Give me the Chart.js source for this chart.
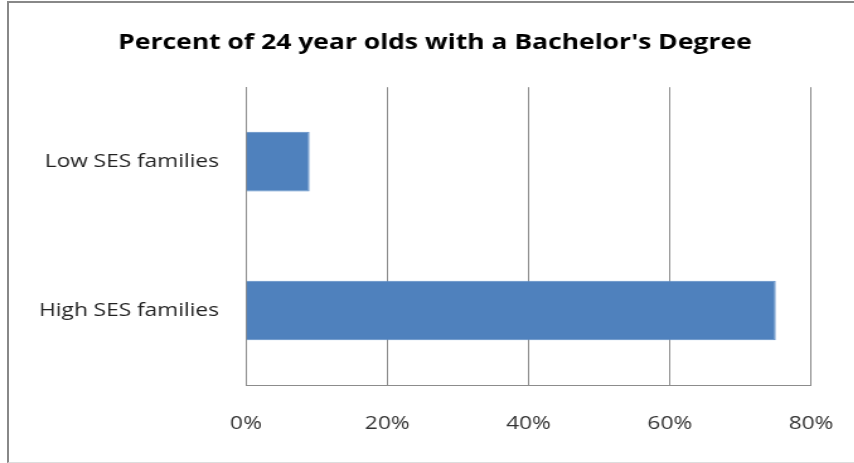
<!DOCTYPE html>
<html>
<head>
<meta charset="utf-8">
<script src="https://cdn.jsdelivr.net/npm/chart.js@4"></script>
<style>
  body { margin: 0; background: #fff; }
  #wrap { position: relative; width: 854px; height: 463px; overflow: hidden; }
  #frame {
    position: absolute; left: 7px; top: 1px; width: 900px; height: 459px;
    border-left: 2px solid #888; border-top: 2px solid #888; border-bottom: 1px solid #ddd;
  }
  /* the source picture is stretched sideways, so stretch the canvas too */
  #graph1 { position: absolute; left: 0; top: 0; transform: scaleX(1.26); transform-origin: 0 0; }
</style>
</head>
<body>
<div id="wrap">
  <div id="frame"></div>
  <canvas id="graph1" width="678" height="463"></canvas>
</div>
<script>
// data
const categories = ["Low SES families", "High SES families"];
const pct_values = [9, 75];
const tick_values = [0, 20, 40, 60, 80];

const ctx = document.getElementById("graph1");

new Chart(ctx, {
  type: "bar",
  data: {
    labels: categories,
    datasets: [{
      label: "Bachelor's Degree",
      data: pct_values,
      backgroundColor: "#4F81BD",
      borderColor: "#5A8BC6",
      borderWidth: 1,
      categoryPercentage: 1,
      barPercentage: 0.4
    }]
  },
  options: {
    responsive: false,
    animation: false,
    indexAxis: 'y',
    layout: {
      padding: { left: 12.4, right: 0, top: 0, bottom: 0 }
    },
    plugins: {
      legend: { display: false },
      tooltip: { enabled: false },
      title: {
        display: true,
        text: "Percent of 24 year olds with a Bachelor's Degree",
        color: "#000",
        font: { family: "'Open Sans'", size: 21, weight: "bold", lineHeight: 1.2 },
        padding: { top: 30, bottom: 32 }
      }
    },
    scales: {
      x: {
        min: 0,
        max: 80,
        afterBuildTicks: function(scale) {
          scale.ticks = tick_values.map(v => ({ value: v }));
        },
        afterFit: function(scale) { scale.height = 78; },
        // invisible tick marks give the gap under the axis
        grid: { color: "#8c8c8c", lineWidth: 1, drawTicks: true, tickLength: 28, tickColor: "rgba(0,0,0,0)" },
        border: { display: true, color: "#8c8c8c", width: 1 },
        ticks: {
          padding: 0,
          color: "#333",
          font: { family: "'Open Sans'", size: 18 },
          callback: function(v) { return v + "%"; }
        }
      },
      y: {
        afterFit: function(scale) { scale.width = 182.8; },
        grid: { display: false, drawTicks: false },
        border: { display: true, color: "#8c8c8c", width: 1 },
        ticks: {
          padding: 21.4,
          color: "#222",
          font: { family: "'Open Sans'", size: 18 }
        }
      },
      // empty right-hand spacer so the title is centred like the original
      y2: {
        type: "category",
        position: "right",
        afterFit: function(scale) { scale.width = 34.3; },
        grid: { display: false, drawTicks: false },
        border: { display: false },
        ticks: { display: false }
      }
    }
  }
});
</script>
</body>
</html>
